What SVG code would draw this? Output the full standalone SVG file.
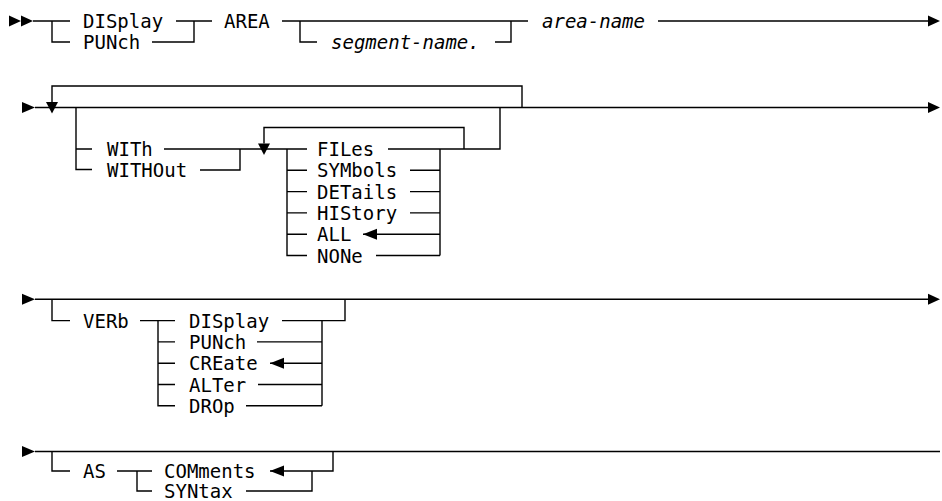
<svg xmlns="http://www.w3.org/2000/svg" width="942" height="501" viewBox="0 0 942 501">
<style>
text{font-family:"DejaVu Sans Mono","Liberation Mono",monospace;font-size:19px;fill:#000}
.it{font-style:italic}
.ln{fill:none;stroke:#000;stroke-width:1.4}
.ah{fill:#000;stroke:none}
</style>
<rect width="942" height="501" fill="#fff"/>
<g id="connectors">
<path class="ln" d="M33,21H70M52,21V42H70M176,21H212M152,42H194V21M282,21H528M300,21V42H317M495,42H511V21M658,21H928"/>
<path class="ln" d="M35,107.5H928M52,102V86H522V107.5M76,107.5V169.5H92M76,149H92M164,149H307M200,170H240V149M264,143.5V127.5H464V149M287,149V255.5H307M287,170.3H307M287,191.6H307M287,212.9H307M287,234.2H307M388,149H500V107.5M410,170.3H440M410,191.6H440M410,212.9H440M363,234.2H440M376,255.5H440M440,149V255.5"/>
<path class="ln" d="M35,299.3H928M52,299.3V320.6H70M140,320.6H175M158,320.6V405.8H175M158,341.9H175M158,363.2H175M158,384.5H175M282,320.6H345V299.3M322,320.6V405.8M257,341.9H322M270,363.2H322M258,384.5H322M246,405.8H322"/>
<path class="ln" d="M35,451.5H940M52,451.5V471H70M117,471H152M137,471V491H152M270,471H333V451.5M246,491H312V471"/>
<polygon class="ah" points="9,15.5 21,21 9,26.5"/>
<polygon class="ah" points="21,15.5 33,21 21,26.5"/>
<polygon class="ah" points="928,15.5 940,21 928,26.5"/>
<polygon class="ah" points="22,102 35,107.5 22,113"/>
<polygon class="ah" points="928,102 940,107.5 928,113"/>
<polygon class="ah" points="46,102 58,102 52,113.5"/>
<polygon class="ah" points="258,143.5 270,143.5 264,155"/>
<polygon class="ah" points="363,234.2 377,228.7 377,239.7"/>
<polygon class="ah" points="22,293.8 35,299.3 22,304.8"/>
<polygon class="ah" points="928,293.8 940,299.3 928,304.8"/>
<polygon class="ah" points="270,363.2 284,357.7 284,368.7"/>
<polygon class="ah" points="22,446 35,451.5 22,457"/>
<polygon class="ah" points="270,471 284,465.5 284,476.5"/>
</g>
<g id="n-display1"><text x="83" y="28">DISplay</text></g>
<g id="n-punch1"><text x="83" y="49">PUNch</text></g>
<g id="n-area"><text x="224" y="28">AREA</text></g>
<g id="n-segment"><text class="it" x="331" y="49">segment-name.</text></g>
<g id="n-areaname"><text class="it" x="542" y="28">area-name</text></g>
<g id="n-with"><text x="107" y="156">WITh</text></g>
<g id="n-without"><text x="107" y="177">WITHOut</text></g>
<g id="n-files"><text x="317" y="156">FILes</text></g>
<g id="n-symbols"><text x="317" y="177.3">SYMbols</text></g>
<g id="n-details"><text x="317" y="198.6">DETails</text></g>
<g id="n-history"><text x="317" y="219.9">HIStory</text></g>
<g id="n-all"><text x="317" y="241.2">ALL</text></g>
<g id="n-none"><text x="317" y="262.5">NONe</text></g>
<g id="n-verb"><text x="83" y="327.6">VERb</text></g>
<g id="n-display2"><text x="189" y="327.6">DISplay</text></g>
<g id="n-punch2"><text x="189" y="348.9">PUNch</text></g>
<g id="n-create"><text x="189" y="370.2">CREate</text></g>
<g id="n-alter"><text x="189" y="391.5">ALTer</text></g>
<g id="n-drop"><text x="189" y="412.8">DROp</text></g>
<g id="n-as"><text x="83" y="478">AS</text></g>
<g id="n-comments"><text x="164" y="478">COMments</text></g>
<g id="n-syntax"><text x="164" y="498">SYNtax</text></g>
</svg>
